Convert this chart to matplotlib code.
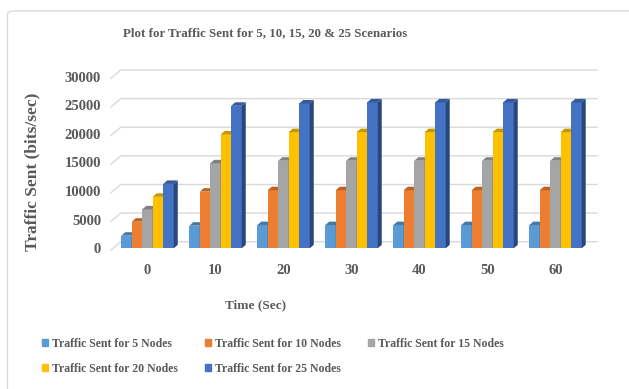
import matplotlib
matplotlib.use("Agg")
import matplotlib.pyplot as plt
from matplotlib.patches import Polygon, Patch, FancyBboxPatch
import numpy as np

# time points and traffic sent (bits/sec) per node scenario
times = [0, 10, 20, 30, 40, 50, 60]
series_names = ["Traffic Sent for 5 Nodes", "Traffic Sent for 10 Nodes",
                "Traffic Sent for 15 Nodes", "Traffic Sent for 20 Nodes",
                "Traffic Sent for 25 Nodes"]
sent_5 = [2200, 3950, 4050, 4050, 4050, 4050, 4050]
sent_10 = [4650, 9900, 10150, 10150, 10150, 10150, 10150]
sent_15 = [6800, 14850, 15300, 15300, 15300, 15300, 15300]
sent_20 = [9000, 19900, 20300, 20300, 20300, 20300, 20300]
sent_25 = [11250, 24900, 25300, 25500, 25500, 25500, 25500]
yticks = [0, 5000, 10000, 15000, 20000, 25000, 30000]

colors = ["#5B9BD5", "#ED7D31", "#A5A5A5", "#FFC000", "#4472C4"]
all_series = [sent_5, sent_10, sent_15, sent_20, sent_25]

txt = "#595959"
grid_c = "#D9D9D9"
font = dict(family="Liberation Serif", weight="bold", color=txt)

W, H = 629, 389
fig = plt.figure(figsize=(W / 100, H / 100), dpi=100)

# light chart-area border
fig.patches.append(FancyBboxPatch((7.5 / W, -0.1), 1.2, 1 - 11 / H + 0.1,
                                  boxstyle="round,pad=0,rounding_size=0.01",
                                  transform=fig.transFigure, fc="white",
                                  ec=grid_c, lw=1.0, zorder=-5))

ax_w, ax_h = 476.3, 171.7
ax = fig.add_axes([111 / W, (H - 248.3) / H, ax_w / W, ax_h / H])
ax.patch.set_alpha(0)
x0, x1 = -0.537, 6.468
ax.set_xlim(x0, x1)
ax.set_ylim(0, 30000)
ux = ax_w / (x1 - x0)      # pixels per x unit
uy = ax_h / 30000          # pixels per y unit

# back wall gridlines with slanted floor edge on the left
wall_dx, wall_dy, front_dy = 9.7 / ux, 6.6 / uy, -1.7 / uy
for v in yticks:
    ax.plot([x0, x0 + wall_dx, x1 + wall_dx],
            [v + front_dy, v + wall_dy, v + wall_dy],
            color=grid_c, lw=1.0, clip_on=False, zorder=0)

# pseudo-3D clustered columns
w = 10.5 / ux
ddx, ddy = 4.0 / ux, 3.5 / uy
pos = np.arange(len(times))
for j, (vals, c) in enumerate(zip(all_series, colors)):
    xs = pos + (j - 2) * w
    z = 2 + j
    ax.bar(xs, vals, width=w, color=c, linewidth=0, zorder=z)
    rgb = np.array(matplotlib.colors.to_rgb(c))
    for x, v in zip(xs, vals):
        l, r = x - w / 2, x + w / 2
        side = [(r, 0), (r + ddx, ddy), (r + ddx, v + ddy), (r, v)]
        top = [(l, v), (r, v), (r + ddx, v + ddy), (l + ddx, v + ddy)]
        ax.add_patch(Polygon(side, closed=True, fc=rgb * 0.62, lw=0, zorder=z))
        ax.add_patch(Polygon(top, closed=True, fc=rgb * 0.78, lw=0, zorder=z))

for s in ax.spines.values():
    s.set_visible(False)
ax.set_xticks(pos)
ax.set_xticklabels([str(t) for t in times])
ax.set_yticks(yticks)
ax.set_yticklabels([str(t) for t in yticks])
ax.tick_params(length=0)
ax.tick_params(axis="x", pad=11)
ax.tick_params(axis="y", pad=7.2)
for lab in ax.get_xticklabels() + ax.get_yticklabels():
    lab.set_fontfamily("Liberation Serif")
    lab.set_fontweight("bold")
    lab.set_color(txt)
    lab.set_fontsize(10.5)

ax.set_ylabel("Traffic Sent (bits/sec)", fontsize=12.5, **font)
ax.yaxis.set_label_coords((40 - 111) / ax_w, (248.3 - 172) / ax_h)

fig.text(265 / W, 1 - 33 / H, "Plot for Traffic Sent for 5, 10, 15, 20 & 25 Scenarios",
         ha="center", va="center", fontsize=9.3, **font)
fig.text(256 / W, 1 - 305 / H, "Time (Sec)", ha="center", va="center",
         fontsize=9.5, **font)

# legend filled column-wise, so reorder to read row by row
order = [0, 3, 1, 4, 2]
handles = [Patch(color=colors[i]) for i in order]
labels = [series_names[i] for i in order]
leg = fig.legend(handles, labels, ncol=3, loc="upper left",
                 bbox_to_anchor=(31 / W, 1 - 327 / H), frameon=False,
                 handlelength=0.55, handleheight=0.55, handletextpad=0.3,
                 columnspacing=2.3, labelspacing=1.1,
                 prop=dict(family="Liberation Serif", weight="bold", size=8.5))
for t in leg.get_texts():
    t.set_color(txt)

fig.savefig("out.png", dpi=100)
